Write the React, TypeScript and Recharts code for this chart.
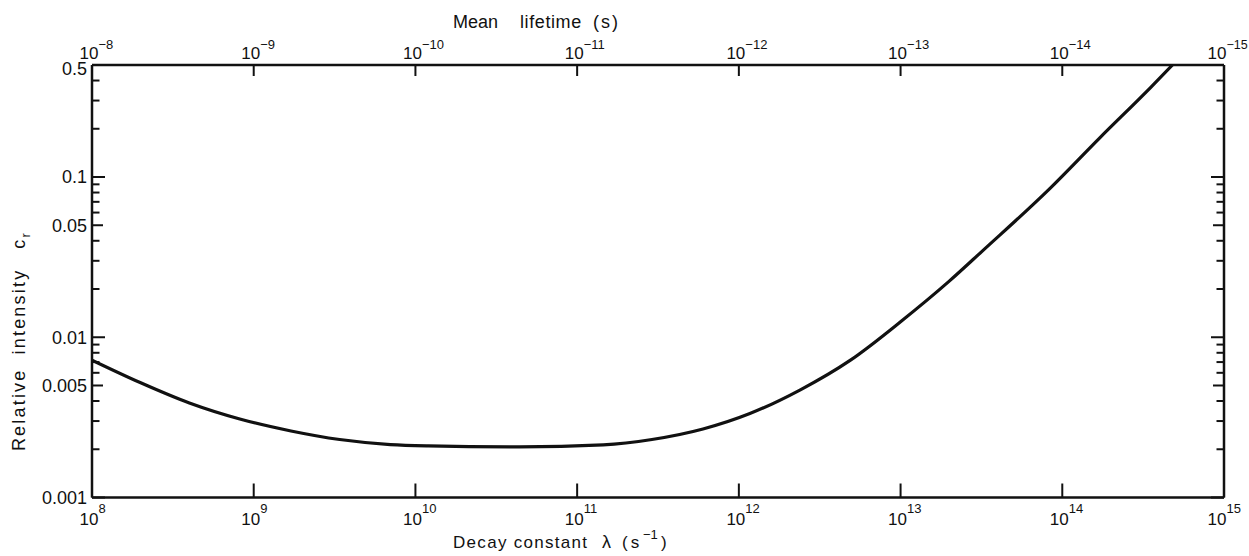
import React from "react";
import { LineChart, Line, XAxis, YAxis } from "recharts";

// Decay constant lambda (s^-1)
const lambdaValues = [
  1e8, 2.0e8, 4.0e8, 8.2e8, 1.7e9, 3.4e9, 7.0e9, 1.2e10, 4.4e10, 1.45e11,
  2.9e11, 6.0e11, 1.17e12, 2.4e12, 4.9e12, 1.0e13, 2.0e13, 3.2e13, 8.4e13,
  1.7e14, 3.5e14, 4.8e14,
];
// Relative intensity c_r
const intensityValues = [
  0.0072, 0.0052, 0.00389, 0.00309, 0.0026, 0.0023, 0.00214, 0.0021, 0.00207,
  0.00213, 0.0023, 0.002675, 0.00334, 0.0047, 0.0072, 0.0125, 0.0224, 0.0345,
  0.085, 0.175, 0.36, 0.5,
];

const decadeTicks = [1e8, 1e9, 1e10, 1e11, 1e12, 1e13, 1e14, 1e15];
const bottomExponents = ["8", "9", "10", "11", "12", "13", "14", "15"];
const topExponents = ["\u22128", "\u22129", "\u221210", "\u221211", "\u221212", "\u221213", "\u221214", "\u221215"];

const yTicks = [
  0.001, 0.002, 0.003, 0.004, 0.005, 0.006, 0.007, 0.008, 0.009,
  0.01, 0.02, 0.03, 0.04, 0.05, 0.06, 0.07, 0.08, 0.09,
  0.1, 0.2, 0.3, 0.4, 0.5,
];
const yLabelValues = [0.001, 0.005, 0.01, 0.05, 0.1, 0.5];
const yLabelTexts = ["0.001", "0.005", "0.01", "0.05", "0.1", "0.5"];

const data = lambdaValues.map((l, i) => ({ lambda: l, c: intensityValues[i] }));

const FONT = "'Liberation Sans', Arial, sans-serif";
const INK = "#111";

function tickLen(v: number) {
  const e = Math.floor(Math.log10(v) + 1e-9);
  const m = Math.round(v / Math.pow(10, e));
  if (m === 1) return 13;
  if (m === 5) return 11;
  return 7.5;
}

function findIdx(arr: number[], v: number) {
  for (let i = 0; i < arr.length; i++) {
    if (Math.abs(arr[i] - v) / arr[i] < 1e-6) return i;
  }
  return -1;
}

const LeftTick = (props: any) => {
  const { x, y, payload } = props;
  const v = payload.value;
  const len = tickLen(v);
  const li = findIdx(yLabelValues, v);
  const dy = v === 0.5 ? 4 : 0;
  return (
    <g>
      <line x1={x} y1={y} x2={x + len} y2={y} stroke={INK} strokeWidth={2} />
      {li >= 0 && (
        <text x={x - 5} y={y + dy} dy="0.36em" textAnchor="end" fontSize={18} fontFamily={FONT} fill={INK}>
          {yLabelTexts[li]}
        </text>
      )}
    </g>
  );
};

const RightTick = (props: any) => {
  const { x, y, payload } = props;
  const len = tickLen(payload.value);
  return <line x1={x - len} y1={y} x2={x} y2={y} stroke={INK} strokeWidth={2} />;
};

const BottomTick = (props: any) => {
  const { x, y, payload } = props;
  const i = findIdx(decadeTicks, payload.value);
  const last = i === decadeTicks.length - 1;
  const cx = last ? x - 7 : x - 3;
  return (
    <g>
      <line x1={x} y1={y} x2={x} y2={y - 14} stroke={INK} strokeWidth={2} />
      <text x={cx} y={y + 27} textAnchor="middle" fontSize={17} fontFamily={FONT} fill={INK}>10</text>
      <text x={cx + 9.5} y={y + 15} textAnchor="start" fontSize={13} fontFamily={FONT} fill={INK}>
        {bottomExponents[i]}
      </text>
    </g>
  );
};

const TopTick = (props: any) => {
  const { x, y, payload } = props;
  const i = findIdx(decadeTicks, payload.value);
  const last = i === decadeTicks.length - 1;
  const cx = last ? x - 7 : x - 3;
  return (
    <g>
      <line x1={x} y1={y} x2={x} y2={y + 11} stroke={INK} strokeWidth={2} />
      <text x={cx} y={y - 6} textAnchor="middle" fontSize={17} fontFamily={FONT} fill={INK}>10</text>
      <text x={cx + 9.5} y={y - 16} textAnchor="start" fontSize={last ? 12.5 : 13} fontFamily={FONT} fill={INK}>
        {topExponents[i]}
      </text>
    </g>
  );
};

const W = 1249;
const H = 556;

export default function App() {
  const axisLine = { stroke: INK, strokeWidth: 2.5 };
  return (
    <div style={{ position: "absolute", left: 0, top: 0, width: W, height: H, background: "#fff" }}>
      <LineChart width={W} height={H} data={data} margin={{ top: 0, right: 0, bottom: 0, left: 0 }}>
        <XAxis
          xAxisId="b"
          dataKey="lambda"
          type="number"
          scale="log"
          domain={[1e8, 1e15]}
          allowDataOverflow
          ticks={decadeTicks}
          interval={0}
          orientation="bottom"
          height={58.5}
          tickSize={0}
          tickMargin={0}
          tickLine={false}
          axisLine={axisLine}
          tick={BottomTick}
        />
        <XAxis
          xAxisId="t"
          dataKey="lambda"
          type="number"
          scale="log"
          domain={[1e8, 1e15]}
          allowDataOverflow
          ticks={decadeTicks}
          interval={0}
          orientation="top"
          height={65}
          tickSize={0}
          tickMargin={0}
          tickLine={false}
          axisLine={axisLine}
          tick={TopTick}
        />
        <YAxis
          yAxisId="l"
          type="number"
          scale="log"
          domain={[0.001, 0.5]}
          allowDataOverflow
          ticks={yTicks}
          interval={0}
          orientation="left"
          width={92}
          tickSize={0}
          tickMargin={0}
          tickLine={false}
          axisLine={axisLine}
          tick={LeftTick}
        />
        <YAxis
          yAxisId="r"
          type="number"
          scale="log"
          domain={[0.001, 0.5]}
          allowDataOverflow
          ticks={yTicks}
          interval={0}
          orientation="right"
          width={25}
          tickSize={0}
          tickMargin={0}
          tickLine={false}
          axisLine={axisLine}
          tick={RightTick}
        />
        <Line
          xAxisId="b"
          yAxisId="l"
          dataKey="c"
          type="monotone"
          stroke={INK}
          strokeWidth={3.2}
          dot={false}
          activeDot={false}
          isAnimationActive={false}
        />
      </LineChart>
      <svg
        width={W}
        height={H}
        style={{ position: "absolute", left: 0, top: 0, pointerEvents: "none" }}
      >
        <g fontFamily={FONT} fill={INK}>
          <text x={453} y={28} fontSize={18}>Mean</text>
          <text x={520} y={28} fontSize={18} letterSpacing={0.6}>lifetime</text>
          <text x={593} y={28} fontSize={18} letterSpacing={2}>(s)</text>

          <text x={453} y={548} fontSize={17} letterSpacing={1.3}>Decay constant</text>
          <text x={602} y={548} fontSize={18}>{"\u03bb"}</text>
          <text x={622} y={548} fontSize={17} letterSpacing={3}>(s</text>
          <text x={643} y={539} fontSize={13}>{"\u22121"}</text>
          <text x={661} y={548} fontSize={17}>)</text>

          <text
            transform="translate(25,341) rotate(-90)"
            textAnchor="middle"
            fontSize={18}
            letterSpacing={2.2}
          >
            <tspan>Relative</tspan>
            <tspan dx={14}>intensity</tspan>
            <tspan dx={20}>c</tspan>
            <tspan dy={5} fontSize={13}>r</tspan>
          </text>
        </g>
      </svg>
    </div>
  );
}
